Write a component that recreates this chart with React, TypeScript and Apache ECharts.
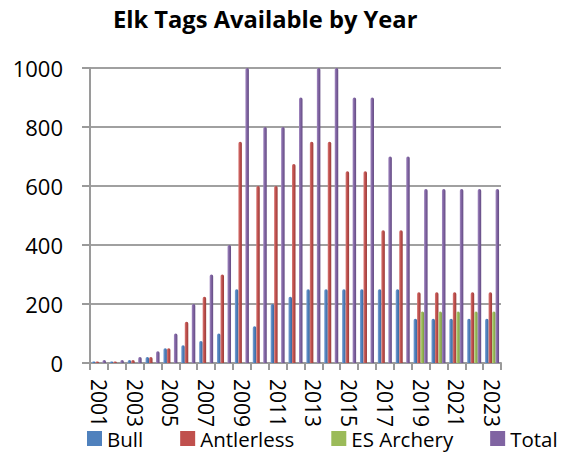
import React, { useEffect, useRef } from "react";
import * as echarts from "echarts";

const years = ["2001","2002","2003","2004","2005","2006","2007","2008","2009","2010","2011","2012","2013","2014","2015","2016","2017","2018","2019","2020","2021","2022","2023"];
const bull = [5,5,10,20,50,60,75,100,250,125,200,225,250,250,250,250,250,250,150,150,150,150,150];
const antlerless = [5,5,10,20,50,140,225,300,750,600,600,675,750,750,650,650,450,450,240,240,240,240,240];
const esArchery = [null,null,null,null,null,null,null,null,null,null,null,null,null,null,null,null,null,null,175,175,175,175,175];
const total = [10,10,20,40,100,200,300,400,1000,800,800,900,1000,1000,900,900,700,700,590,590,590,590,590];
const yTicks = { min: 0, max: 1000, interval: 200 };

const FONT = "Open Sans";

function grad(light: string, base: string, dark: string) {
  return new echarts.graphic.LinearGradient(0, 0, 1, 0, [
    { offset: 0, color: light },
    { offset: 0.45, color: base },
    { offset: 1, color: dark },
  ]);
}

export default function App() {
  const ref = useRef<HTMLDivElement>(null);
  useEffect(() => {
    const chart = echarts.init(ref.current!, undefined, { renderer: "svg" });
    const mkSeries = (name: string, data: any[], light: string, base: string, dark: string) => ({
      name,
      type: "bar",
      data,
      barWidth: "19.6%",
      barGap: "0%",
      itemStyle: { color: grad(light, base, dark), borderRadius: [2, 2, 0, 0] },
    });
    chart.setOption({
      animation: false,
      title: {
        text: "Elk Tags Available by Year",
        left: 113,
        top: 7,
        padding: 0,
        textStyle: { fontFamily: FONT, fontWeight: "bold", fontSize: 23.7, color: "#000" },
      },
      legend: {
        data: [
          { name: "Bull", itemStyle: { color: "#4f81bd" } },
          { name: "Antlerless", itemStyle: { color: "#c0504d" } },
          { name: "ES Archery", itemStyle: { color: "#9bbb59" } },
          { name: "Total", itemStyle: { color: "#8064a2" } },
        ],
        left: 87,
        top: 428,
        padding: 0,
        itemGap: 37,
        itemWidth: 15,
        itemHeight: 15,
        icon: "rect",
        textStyle: { fontFamily: FONT, fontSize: 20.5, lineHeight: 20, color: "#000" },
        selectedMode: false,
      },
      grid: { left: 90, right: 70, top: 68, bottom: 90 },
      xAxis: {
        type: "category",
        data: years,
        axisLine: { lineStyle: { color: "#9a9a9a", width: 2 } },
        axisTick: { show: true, interval: 0, length: 7, lineStyle: { color: "#9a9a9a", width: 2 } },
        axisLabel: {
          interval: 1,
          rotate: -90,
          margin: 16,
          fontFamily: FONT,
          fontSize: 21,
          color: "#000",
        },
      },
      yAxis: {
        type: "value",
        min: yTicks.min,
        max: yTicks.max,
        interval: yTicks.interval,
        axisLine: { show: true, lineStyle: { color: "#9a9a9a", width: 2 } },
        axisTick: { show: true, length: 8, lineStyle: { color: "#9a9a9a", width: 2 } },
        splitLine: { lineStyle: { color: "#a0a0a0", width: 2 } },
        axisLabel: {
          margin: 27,
          fontFamily: FONT,
          fontSize: 22,
          color: "#000",
          formatter: (v: number) => String(v),
        },
      },
      series: [
        mkSeries("Bull", bull, "#7ea3d4", "#4f81bd", "#3a659a"),
        mkSeries("Antlerless", antlerless, "#d97d7a", "#c0504d", "#983c3a"),
        mkSeries("ES Archery", esArchery, "#b8d486", "#9bbb59", "#7a9842"),
        mkSeries("Total", total, "#a48bc2", "#8064a2", "#634b82"),
      ],
    });
    return () => chart.dispose();
  }, []);
  return (
    <div
      ref={ref}
      style={{ position: "absolute", left: 0, top: 0, width: 571, height: 453 }}
    />
  );
}
